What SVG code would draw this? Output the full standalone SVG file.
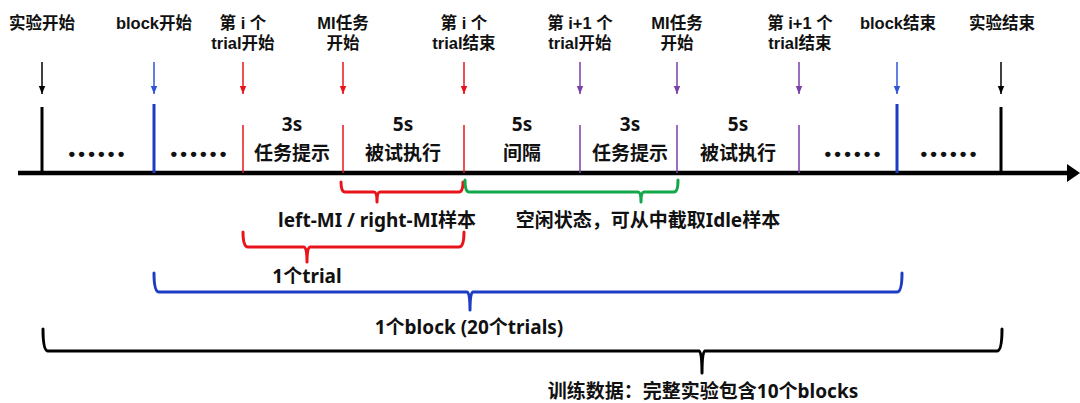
<svg xmlns="http://www.w3.org/2000/svg" width="1080" height="403" viewBox="0 0 1080 403">
<defs>
<style>
text{font-family:"Noto Sans","Noto Sans CJK SC",sans-serif;font-weight:bold;fill:#111;text-anchor:middle}
.top{font-family:"Liberation Sans","Noto Sans CJK SC",sans-serif;font-size:16.5px}
.mid{font-size:19px}
.bot{font-size:19px}
.dots{font-family:"Liberation Sans",sans-serif;font-size:19px;letter-spacing:3.2px}
.arr{stroke-width:1.5;fill:none}
.brace{fill:none;stroke-width:3;stroke-linejoin:round;stroke-linecap:round}
</style>
<marker id="mk" viewBox="0 0 8 8" refX="8" refY="4" markerWidth="8" markerHeight="8" markerUnits="userSpaceOnUse" orient="auto"><path d="M0,0.8 L8,4 L0,7.2 z" fill="#000"/></marker>
<marker id="mb" viewBox="0 0 8 8" refX="8" refY="4" markerWidth="8" markerHeight="8" markerUnits="userSpaceOnUse" orient="auto"><path d="M0,0.8 L8,4 L0,7.2 z" fill="#2f55d4"/></marker>
<marker id="mr" viewBox="0 0 8 8" refX="8" refY="4" markerWidth="8" markerHeight="8" markerUnits="userSpaceOnUse" orient="auto"><path d="M0,0.8 L8,4 L0,7.2 z" fill="#e8141c"/></marker>
<marker id="mp" viewBox="0 0 8 8" refX="8" refY="4" markerWidth="8" markerHeight="8" markerUnits="userSpaceOnUse" orient="auto"><path d="M0,0.8 L8,4 L0,7.2 z" fill="#7b3fa8"/></marker>
</defs>
<rect width="1080" height="403" fill="#fff"/>

<g id="axis">
<line x1="18" y1="173" x2="1070" y2="173" stroke="#000" stroke-width="4.5"/>
<polygon points="1067,164 1080,173 1067,182" fill="#000"/>
</g>

<g id="connectors">
<line class="arr" x1="42" y1="62" x2="42" y2="94" stroke="#000" marker-end="url(#mk)"/>
<line class="arr" x1="154" y1="62" x2="154" y2="94" stroke="#2f55d4" marker-end="url(#mb)"/>
<line class="arr" x1="243" y1="62" x2="243" y2="94" stroke="#e8141c" marker-end="url(#mr)"/>
<line class="arr" x1="343" y1="62" x2="343" y2="94" stroke="#e8141c" marker-end="url(#mr)"/>
<line class="arr" x1="464" y1="62" x2="464" y2="94" stroke="#e8141c" marker-end="url(#mr)"/>
<line class="arr" x1="580" y1="62" x2="580" y2="94" stroke="#7b3fa8" marker-end="url(#mp)"/>
<line class="arr" x1="677" y1="62" x2="677" y2="94" stroke="#7b3fa8" marker-end="url(#mp)"/>
<line class="arr" x1="799" y1="62" x2="799" y2="94" stroke="#7b3fa8" marker-end="url(#mp)"/>
<line class="arr" x1="897" y1="62" x2="897" y2="94" stroke="#2f55d4" marker-end="url(#mb)"/>
<line class="arr" x1="1001" y1="62" x2="1001" y2="94" stroke="#000" marker-end="url(#mk)"/>
</g>

<g id="ticks">
<line x1="42" y1="107" x2="42" y2="173" stroke="#000" stroke-width="3"/>
<line x1="154" y1="104" x2="154" y2="173" stroke="#1c3cc4" stroke-width="3"/>
<line x1="243" y1="125" x2="243" y2="173" stroke="#e8141c" stroke-width="1.5"/>
<line x1="343" y1="125" x2="343" y2="173" stroke="#e8141c" stroke-width="1.5"/>
<line x1="464" y1="125" x2="464" y2="173" stroke="#e8141c" stroke-width="1.5"/>
<line x1="580" y1="125" x2="580" y2="173" stroke="#7b3fa8" stroke-width="1.5"/>
<line x1="677" y1="125" x2="677" y2="173" stroke="#7b3fa8" stroke-width="1.5"/>
<line x1="799" y1="125" x2="799" y2="173" stroke="#7b3fa8" stroke-width="1.5"/>
<line x1="897" y1="104" x2="897" y2="173" stroke="#1c3cc4" stroke-width="3"/>
<line x1="1001" y1="107" x2="1001" y2="173" stroke="#000" stroke-width="3"/>
</g>

<g id="top-labels">
<text class="top" x="42" y="29">实验开始</text>
<text class="top" x="154" y="29">block开始</text>
<text class="top" x="243" y="29">第 i 个<tspan x="243" dy="20">trial开始</tspan></text>
<text class="top" x="343" y="29">MI任务<tspan x="343" dy="20">开始</tspan></text>
<text class="top" x="464" y="29">第 i 个<tspan x="464" dy="20">trial结束</tspan></text>
<text class="top" x="580" y="29">第 i+1 个<tspan x="580" dy="20">trial开始</tspan></text>
<text class="top" x="677" y="29">MI任务<tspan x="677" dy="20">开始</tspan></text>
<text class="top" x="800" y="29">第 i+1 个<tspan x="800" dy="20">trial结束</tspan></text>
<text class="top" x="898" y="29">block结束</text>
<text class="top" x="1002" y="29">实验结束</text>
</g>

<g id="segments">
<text class="mid" x="292" y="131">3s<tspan x="292" dy="29">任务提示</tspan></text>
<text class="mid" x="403" y="131">5s<tspan x="403" dy="29">被试执行</tspan></text>
<text class="mid" x="522" y="131">5s<tspan x="522" dy="29">间隔</tspan></text>
<text class="mid" x="630" y="131">3s<tspan x="630" dy="29">任务提示</tspan></text>
<text class="mid" x="738" y="131">5s<tspan x="738" dy="29">被试执行</tspan></text>
<text class="dots" x="98" y="160">••••••</text>
<text class="dots" x="200" y="160">••••••</text>
<text class="dots" x="854" y="160">••••••</text>
<text class="dots" x="950" y="160">••••••</text>
</g>

<g id="brace-mi">
<path class="brace" stroke="#e8141c" d="M341,182 Q341,192 345,192 H374 Q377,192 377,202 Q377,192 380,192 H459 Q463,192 463,182"/>
<text class="bot" x="377" y="227">left-MI / right-MI样本</text>
</g>
<g id="brace-idle">
<path class="brace" stroke="#12a84a" d="M465,180 Q465,192 469,192 H638 Q641,192 641,202 Q641,192 644,192 H674 Q678,192 678,180"/>
<text class="bot" x="648" y="227">空闲状态，可从中截取Idle样本</text>
</g>
<g id="brace-trial">
<path class="brace" stroke="#e8141c" d="M243,232 Q243,247 248,247 H304 Q307,247 307,262 Q307,247 310,247 H459 Q464,247 464,232"/>
<text class="bot" x="307" y="283">1个trial</text>
</g>
<g id="brace-block">
<path class="brace" stroke="#1c3cc4" d="M154,273 Q154,292 159,292 H467 Q470,292 470,310 Q470,292 473,292 H897 Q902,292 902,273"/>
<text class="bot" x="469" y="334">1个block (20个trials)</text>
</g>
<g id="brace-all">
<path class="brace" stroke="#000" d="M43,329 Q43,351 48,351 H699 Q702,351 702,373 Q702,351 705,351 H997 Q1002,351 1002,329"/>
<text class="bot" x="703" y="398">训练数据：完整实验包含10个blocks</text>
</g>
</svg>
